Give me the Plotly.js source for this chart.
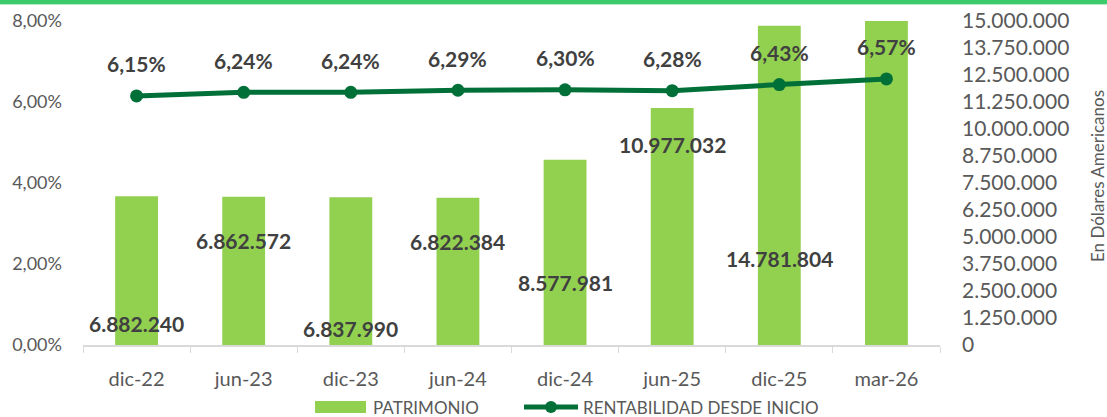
<!DOCTYPE html>
<html>
<head>
<meta charset="utf-8">
<script src="https://cdn.plot.ly/plotly-3.0.1.min.js"></script>
<style>
  html, body { margin: 0; padding: 0; background: #fff; }
  #topbar { position: absolute; left: 0; top: 0; width: 1107px; height: 4px; background: #3CCB6A; border-bottom: 1px solid #B8EBC8; z-index: 5; }
  #chart { width: 1107px; height: 417px; }
</style>
</head>
<body>
<div id="topbar"></div>
<div id="chart"></div>
<script>
// ---- data ----
const categories = ["dic-22", "jun-23", "dic-23", "jun-24", "dic-24", "jun-25", "dic-25", "mar-26"];
const patrimonio = [6882240, 6862572, 6837990, 6822384, 8577981, 10977032, 14781804, 15020000];
const patrimonioLabeled = [true, true, true, true, true, true, true, false];
const rentabilidad = [0.0615, 0.0624, 0.0624, 0.0629, 0.0630, 0.0628, 0.0643, 0.0657];
const leftTicks = [0, 0.02, 0.04, 0.06, 0.08];
const rightTicks = [0, 1250000, 2500000, 3750000, 5000000, 6250000, 7500000, 8750000, 10000000, 11250000, 12500000, 13750000, 15000000];
const seriesNames = ["PATRIMONIO", "RENTABILIDAD DESDE INICIO"];
const axisTitleRight = "En Dólares Americanos";

// ---- layout geometry (pixels) ----
const W = 1107, H = 417;
const M = { l: 83, r: 167, t: 21, b: 72 };
const plotW = W - M.l - M.r, plotH = H - M.t - M.b;
const px = x => (x - M.l) / plotW;          // pixel x -> paper x
const py = y => (H - M.b - y) / plotH;      // pixel y -> paper y
const barLabelRows = [323, 240, 328, 242, 282, 144, 258, 0];

function fmtInt(v) {
  return Math.round(v).toString().replace(/\B(?=(\d{3})+(?!\d))/g, ".");
}
function fmtPct(v) {
  return (v * 100).toFixed(2).replace(".", ",") + "%";
}

const FONT = "Lato, 'Open Sans', sans-serif";
const BAR_COLOR = "#92D050";
const LINE_COLOR = "#007038";
const LABEL_COLOR = "#404040";
const AXIS_TEXT = "#595959";

const barTrace = {
  type: "bar",
  name: seriesNames[0],
  x: categories,
  y: patrimonio,
  yaxis: "y",
  marker: { color: BAR_COLOR },
  width: 0.4,
  hoverinfo: "skip"
};

const lineTrace = {
  type: "scatter",
  mode: "lines+markers",
  name: seriesNames[1],
  x: categories,
  y: rentabilidad,
  yaxis: "y2",
  line: { color: LINE_COLOR, width: 5 },
  marker: { color: LINE_COLOR, size: 13 },
  hoverinfo: "skip"
};

const boldFont = { family: FONT, size: 21, color: LABEL_COLOR, weight: "bold" };
const annotations = [];
categories.forEach((c, i) => {
  if (patrimonioLabeled[i]) {
    annotations.push({
      x: c, xref: "x",
      y: py(barLabelRows[i]), yref: "paper",
      text: fmtInt(patrimonio[i]),
      showarrow: false, font: boldFont,
      xanchor: "center", yanchor: "middle"
    });
  }
  annotations.push({
    x: c, xref: "x",
    y: rentabilidad[i], yref: "y2",
    yshift: 32,
    text: fmtPct(rentabilidad[i]),
    showarrow: false, font: boldFont,
    xanchor: "center", yanchor: "middle"
  });
});
// right axis title
annotations.push({
  x: px(1097), xref: "paper", xanchor: "center",
  y: py(176), yref: "paper", yanchor: "middle",
  text: axisTitleRight, textangle: -90,
  showarrow: false,
  font: { family: FONT, size: 17, color: AXIS_TEXT }
});
// custom legend texts
const legendFont = { family: FONT, size: 17, color: AXIS_TEXT };
annotations.push({
  x: px(371), xref: "paper", xanchor: "left",
  y: py(407), yref: "paper", yanchor: "middle",
  text: seriesNames[0], showarrow: false, font: legendFont
});
annotations.push({
  x: px(581), xref: "paper", xanchor: "left",
  y: py(407), yref: "paper", yanchor: "middle",
  text: seriesNames[1], showarrow: false, font: legendFont
});

const shapes = [
  { type: "rect", xref: "paper", yref: "paper",
    x0: px(315), x1: px(366), y0: py(413), y1: py(401),
    fillcolor: BAR_COLOR, line: { width: 0 } },
  { type: "line", xref: "paper", yref: "paper",
    x0: px(524), x1: px(578), y0: py(407), y1: py(407),
    line: { color: LINE_COLOR, width: 5 } },
  { type: "circle", xref: "paper", yref: "paper",
    x0: px(545), x1: px(557), y0: py(413), y1: py(401),
    fillcolor: LINE_COLOR, line: { width: 0 } }
];

const layout = {
  width: W,
  height: H,
  margin: M,
  paper_bgcolor: "#ffffff",
  plot_bgcolor: "#ffffff",
  separators: ",.",
  font: { family: FONT, color: AXIS_TEXT, size: 18 },
  showlegend: false,
  xaxis: {
    type: "category",
    showline: true, linecolor: "#D9D9D9", linewidth: 1.5,
    ticks: "outside", tickson: "boundaries", ticklen: 6, tickcolor: "#D9D9D9",
    showgrid: false,
    ticklabelstandoff: 15,
    tickfont: { family: FONT, size: 20, color: AXIS_TEXT }
  },
  yaxis: {
    side: "right",
    range: [0, 15000000],
    tickvals: rightTicks,
    ticktext: rightTicks.map(fmtInt),
    showgrid: false, zeroline: false, showline: false,
    ticks: "", ticklabelstandoff: 21,
    tickfont: { family: FONT, size: 21, color: AXIS_TEXT }
  },
  yaxis2: {
    overlaying: "y",
    side: "left",
    range: [0, 0.08],
    tickvals: leftTicks,
    tickformat: ".2%",
    showgrid: false, zeroline: false, showline: false,
    ticks: "", ticklabelstandoff: 20,
    tickfont: { family: FONT, size: 18, color: AXIS_TEXT }
  },
  annotations: annotations,
  shapes: shapes
};

Plotly.newPlot("chart", [barTrace, lineTrace], layout, { staticPlot: true, displayModeBar: false });
</script>
</body>
</html>
